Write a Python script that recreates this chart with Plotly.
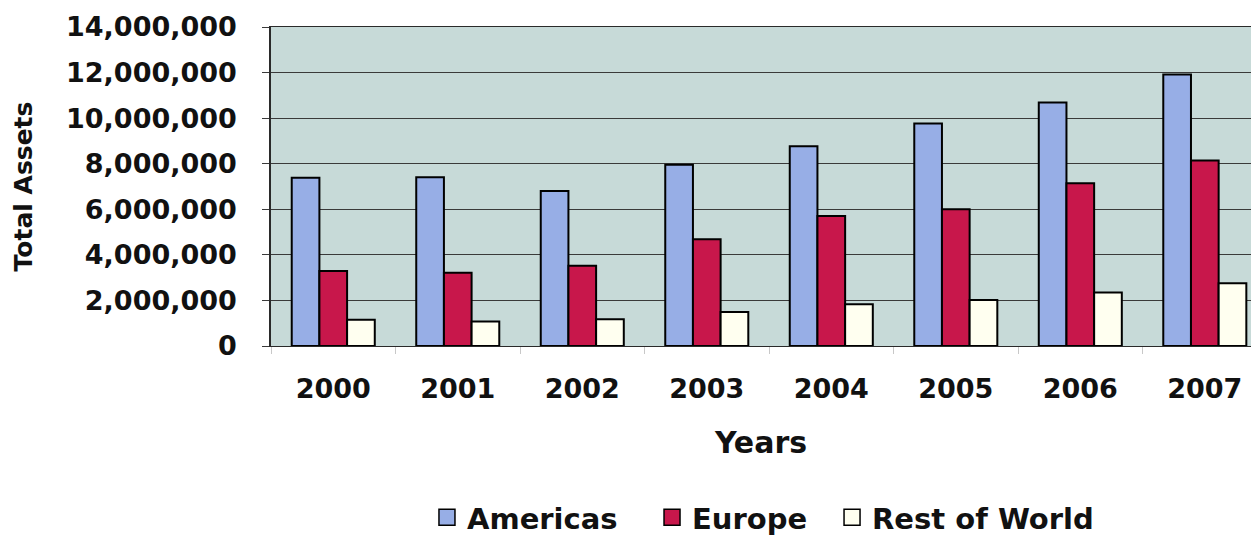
import plotly.graph_objects as go

# Total assets by region, 2000-2007
years = ["2000", "2001", "2002", "2003", "2004", "2005", "2006", "2007"]
americas = [7380000, 7410000, 6800000, 7950000, 8770000, 9770000, 10690000, 11920000]
europe = [3290000, 3210000, 3520000, 4680000, 5700000, 6000000, 7140000, 8140000]
rest_of_world = [1150000, 1070000, 1170000, 1490000, 1830000, 2020000, 2350000, 2750000]

series_names = ["Americas", "Europe", "Rest of World"]
series_values = [americas, europe, rest_of_world]
series_colors = ["#97AEE6", "#C8174B", "#FFFFF0"]

FONT = "DejaVu Sans"
INK = "#111111"

# one small legend per series so each entry can be placed on its own
legend_ids = ["legend", "legend2", "legend3"]
legend_x = [0.3413, 0.5212, 0.6651]

fig = go.Figure()

for name, vals, col, lg in zip(series_names, series_values, series_colors, legend_ids):
    fig.add_trace(go.Bar(
        x=years, y=vals, name=name,
        marker=dict(color=col, line=dict(color="#000000", width=2)),
        showlegend=False,
    ))
    # legend proxy with a larger square swatch
    fig.add_trace(go.Scatter(
        x=[None], y=[None], mode="markers", name=name,
        marker=dict(symbol="square", size=16, color=col,
                    line=dict(color="#000000", width=1.5)),
        showlegend=True, legend=lg,
    ))

legend_style = dict(
    orientation="h",
    xref="container", yref="container",
    xanchor="left", y=0.040, yanchor="middle",
    font=dict(family=FONT, size=29, color=INK, weight="bold"),
    bgcolor="rgba(0,0,0,0)",
    itemwidth=30,
)

fig.update_layout(
    width=1251, height=539,
    margin=dict(l=271, r=0, t=27, b=193),
    paper_bgcolor="#FFFFFF",
    plot_bgcolor="#C7DAD8",
    barmode="group",
    bargap=0.333,
    bargroupgap=0.0,
    font=dict(family=FONT, color=INK),
    legend=dict(x=legend_x[0], **legend_style),
    legend2=dict(x=legend_x[1], **legend_style),
    legend3=dict(x=legend_x[2], **legend_style),
)

fig.update_xaxes(
    type="category",
    range=[-0.5, 7.371],
    automargin=False,
    showgrid=False,
    showline=True, mirror=True, linecolor="#2A2A2A", linewidth=1.2,
    ticks="outside", tickson="boundaries", ticklen=7, tickcolor="#C8C8C8", tickwidth=1,
    ticklabelstandoff=18,
    tickfont=dict(family=FONT, size=27, color=INK, weight="bold"),
    title=dict(text="Years", standoff=29,
               font=dict(family=FONT, size=30, color=INK, weight="bold")),
)

fig.update_yaxes(
    range=[0, 14000000],
    dtick=2000000,
    tickformat=",d",
    automargin=False,
    showgrid=True, gridcolor="#3A3A3A", gridwidth=1,
    zeroline=False,
    showline=True, linecolor="#2A2A2A", linewidth=1.5,
    ticks="outside", ticklen=7, tickcolor="#3A3A3A", tickwidth=1,
    ticklabelstandoff=20,
    tickfont=dict(family=FONT, size=27, color=INK, weight="bold"),
    title=dict(text="Total Assets", standoff=26,
               font=dict(family=FONT, size=25, color=INK, weight="bold")),
)

fig.write_html("out.html")
